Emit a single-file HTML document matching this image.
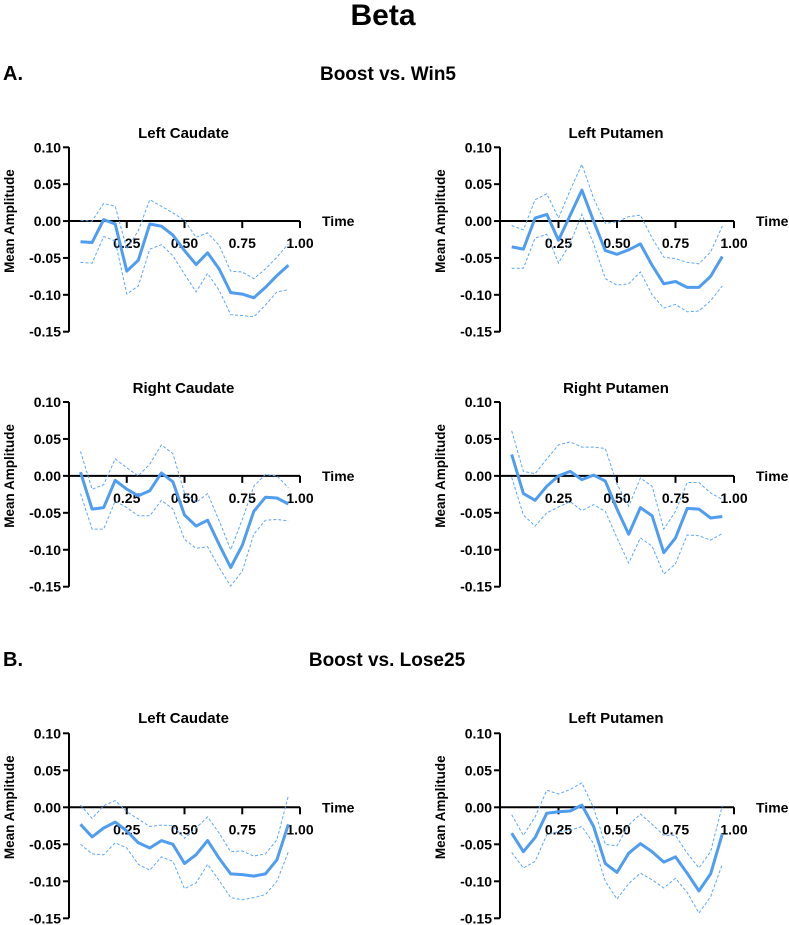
<!DOCTYPE html>
<html><head><meta charset="utf-8">
<style>
html,body{margin:0;padding:0;background:#fff;}
svg{display:block;font-family:"Liberation Sans",Arial,sans-serif;font-weight:bold;}
</style></head>
<body>
<svg id="fig" width="789" height="925" viewBox="0 0 789 925">
<text x="383" y="25" font-size="30" text-anchor="middle">Beta</text>
<text x="3" y="80" font-size="20">A.</text>
<text x="388" y="80" font-size="19" text-anchor="middle">Boost vs. Win5</text>
<text x="3" y="666" font-size="20">B.</text>
<text x="387" y="666" font-size="19" text-anchor="middle">Boost vs. Lose25</text>
</svg>
<script>
const times=[0.05,0.10,0.15,0.20,0.25,0.30,0.35,0.40,0.45,0.50,0.55,0.60,0.65,0.70,0.75,0.80,0.85,0.90,0.95];
const yTicks=[0.10,0.05,0.00,-0.05,-0.10,-0.15];
const yTickLabels=["0.10","0.05","0.00","-0.05","-0.10","-0.15"];
const xTicks=[0.25,0.50,0.75,1.00];
const xTickLabels=["0.25","0.50","0.75","1.00"];
const panelTitles=["Left Caudate","Left Putamen","Right Caudate","Right Putamen","Left Caudate","Left Putamen"];

const lcA_mean=[-0.028,-0.029,0.002,-0.004,-0.068,-0.053,-0.004,-0.007,-0.019,-0.040,-0.059,-0.043,-0.065,-0.097,-0.099,-0.104,-0.090,-0.074,-0.060];
const lcA_upper=[0.001,0.000,0.024,0.020,-0.038,-0.013,0.029,0.020,0.011,0.001,-0.022,-0.016,-0.033,-0.068,-0.069,-0.078,-0.065,-0.049,-0.031];
const lcA_lower=[-0.056,-0.057,-0.021,-0.027,-0.099,-0.088,-0.038,-0.032,-0.047,-0.072,-0.096,-0.071,-0.094,-0.127,-0.128,-0.130,-0.114,-0.096,-0.093];

const lpA_mean=[-0.035,-0.038,0.004,0.009,-0.026,0.008,0.042,0.000,-0.040,-0.045,-0.039,-0.031,-0.060,-0.085,-0.082,-0.090,-0.090,-0.075,-0.048];
const lpA_upper=[-0.006,-0.012,0.029,0.037,0.004,0.042,0.077,0.031,-0.003,-0.001,0.006,0.008,-0.023,-0.049,-0.051,-0.056,-0.058,-0.042,-0.007];
const lpA_lower=[-0.064,-0.064,-0.023,-0.018,-0.057,-0.030,0.009,-0.031,-0.078,-0.087,-0.085,-0.069,-0.100,-0.118,-0.113,-0.123,-0.122,-0.108,-0.088];

const rcA_mean=[0.005,-0.045,-0.043,-0.006,-0.018,-0.027,-0.020,0.004,-0.008,-0.053,-0.068,-0.060,-0.093,-0.124,-0.094,-0.048,-0.029,-0.030,-0.038];
const rcA_upper=[0.033,-0.018,-0.012,0.023,0.011,0.000,0.016,0.042,0.030,-0.023,-0.036,-0.024,-0.061,-0.100,-0.059,-0.014,0.002,0.000,-0.016];
const rcA_lower=[-0.024,-0.072,-0.072,-0.034,-0.043,-0.054,-0.054,-0.033,-0.045,-0.086,-0.098,-0.096,-0.124,-0.149,-0.129,-0.079,-0.060,-0.059,-0.061];

const rpA_mean=[0.029,-0.024,-0.033,-0.014,0.000,0.006,-0.005,0.001,-0.007,-0.045,-0.079,-0.043,-0.054,-0.104,-0.084,-0.044,-0.045,-0.057,-0.055];
const rpA_upper=[0.061,0.006,0.003,0.023,0.042,0.046,0.039,0.039,0.037,-0.011,-0.041,-0.003,-0.014,-0.072,-0.048,-0.009,-0.009,-0.023,-0.032];
const rpA_lower=[-0.002,-0.053,-0.068,-0.050,-0.042,-0.035,-0.047,-0.039,-0.048,-0.084,-0.118,-0.084,-0.095,-0.133,-0.119,-0.080,-0.081,-0.087,-0.078];

const lcB_mean=[-0.023,-0.040,-0.028,-0.020,-0.032,-0.048,-0.055,-0.045,-0.050,-0.076,-0.064,-0.045,-0.069,-0.090,-0.091,-0.093,-0.090,-0.071,-0.023];
const lcB_upper=[0.003,-0.015,0.002,0.009,-0.006,-0.016,-0.026,-0.024,-0.025,-0.042,-0.028,-0.013,-0.035,-0.060,-0.059,-0.066,-0.063,-0.044,0.016];
const lcB_lower=[-0.050,-0.063,-0.064,-0.048,-0.055,-0.077,-0.085,-0.067,-0.073,-0.110,-0.102,-0.077,-0.099,-0.122,-0.125,-0.122,-0.118,-0.100,-0.060];

const lpB_mean=[-0.035,-0.060,-0.041,-0.008,-0.006,-0.005,0.003,-0.026,-0.076,-0.088,-0.062,-0.049,-0.060,-0.074,-0.067,-0.089,-0.113,-0.090,-0.036];
const lpB_upper=[-0.010,-0.038,-0.013,0.023,0.018,0.024,0.033,-0.001,-0.050,-0.052,-0.024,-0.009,-0.023,-0.038,-0.038,-0.062,-0.082,-0.060,0.002];
const lpB_lower=[-0.061,-0.082,-0.073,-0.037,-0.033,-0.031,-0.026,-0.049,-0.100,-0.124,-0.103,-0.089,-0.098,-0.109,-0.096,-0.115,-0.143,-0.121,-0.077];

const panelMeans=[lcA_mean,lpA_mean,rcA_mean,rpA_mean,lcB_mean,lpB_mean];
const panelUppers=[lcA_upper,lpA_upper,rcA_upper,rpA_upper,lcB_upper,lpB_upper];
const panelLowers=[lcA_lower,lpA_lower,rcA_lower,rpA_lower,lcB_lower,lpB_lower];

const NS="http://www.w3.org/2000/svg";
const svg=document.getElementById('fig');
const layout=[
 {x0:69,x1:300,yTop:147.3,yBot:331.7,titleY:138},
 {x0:500,x1:734,yTop:147.3,yBot:331.7,titleY:138},
 {x0:69,x1:300,yTop:402,yBot:586.7,titleY:393},
 {x0:500,x1:734,yTop:402,yBot:586.7,titleY:393},
 {x0:69,x1:300,yTop:733.3,yBot:918.3,titleY:723},
 {x0:500,x1:734,yTop:733.3,yBot:918.3,titleY:723}
];
function mk(tag,attrs,parent){const e=document.createElementNS(NS,tag);for(const k in attrs)e.setAttribute(k,attrs[k]);(parent||svg).appendChild(e);return e;}

layout.forEach((L,i)=>{
  const g=mk('g',{});
  
  
  const xs=t=>L.x0+(L.x1-L.x0)*t;
  const ys=v=>L.yTop+(0.10-v)/0.25*(L.yBot-L.yTop);
  const y0=ys(0);
  const t=mk('text',{x:(L.x0+L.x1)/2-1,y:L.titleY,'font-size':15,'text-anchor':'middle'},g);
  t.textContent=panelTitles[i];
  
  
  const yl=mk('text',{x:0,y:0,'font-size':13.5,'text-anchor':'middle',transform:`translate(${L.x0-55},${y0}) rotate(-90)`},g);
  yl.textContent='Mean Amplitude';
  
  
  const ya=mk('line',{x1:L.x0,y1:L.yTop,x2:L.x0,y2:L.yBot,stroke:'#000','stroke-width':2},g);
  
  
  yTicks.forEach((v,k)=>{
    mk('line',{x1:L.x0-6,y1:ys(v),x2:L.x0,y2:ys(v),stroke:'#000','stroke-width':2},g);
    const tl=mk('text',{x:L.x0-8,y:ys(v)+5,'font-size':14,'text-anchor':'end'},g);
    tl.textContent=yTickLabels[k];
    
    
  });
  const xa=mk('line',{x1:L.x0,y1:y0,x2:L.x1,y2:y0,stroke:'#000','stroke-width':2},g);
  
  
  xTicks.forEach((v,k)=>{
    mk('line',{x1:xs(v),y1:y0,x2:xs(v),y2:y0+7,stroke:'#000','stroke-width':2},g);
    const tl=mk('text',{x:xs(v),y:y0+27,'font-size':14,'text-anchor':'middle'},g);
    tl.textContent=xTickLabels[k];
    
    
  });
  const xt=mk('text',{x:L.x1+22,y:y0+5,'font-size':14},g);
  xt.textContent='Time';
  
  
  const pts=arr=>arr.map((v,k)=>xs(times[k]).toFixed(1)+','+ys(v).toFixed(1)).join(' ');
  const up=mk('polyline',{points:pts(panelUppers[i]),fill:'none',stroke:'#5aa8f7','stroke-width':1,'stroke-dasharray':'3,2'},g);
  
  
  const lo=mk('polyline',{points:pts(panelLowers[i]),fill:'none',stroke:'#5aa8f7','stroke-width':1,'stroke-dasharray':'3,2'},g);
  
  
  const mn=mk('polyline',{points:pts(panelMeans[i]),fill:'none',stroke:'#4f9df0','stroke-width':3,'stroke-linejoin':'round'},g);
  
  
});
</script>
</body></html>
